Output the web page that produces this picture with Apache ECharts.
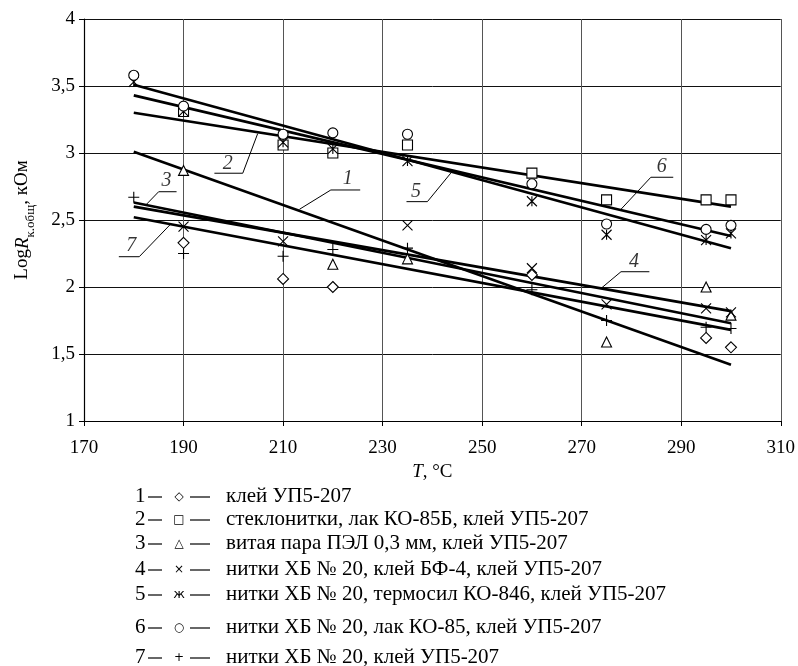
<!DOCTYPE html>
<html><head><meta charset="utf-8">
<script src="https://cdn.jsdelivr.net/npm/echarts@6/dist/echarts.min.js"></script>
<style>html,body{margin:0;padding:0;background:#fff}#c{width:798px;height:666px}</style>
</head><body><div id="c"></div>
<script>
// ---- data ----
const xMin = 170, xMax = 310, xStep = 20;
const yMin = 1, yMax = 4, yStep = 0.5;

// measured points [T, LogR]
const s1 = [[190,2.33],[210,2.06],[220,2.00],[260,2.09],[295,1.62],[300,1.55]];
const s2 = [[190,3.31],[210,3.06],[220,3.00],[235,3.06],[260,2.85],[275,2.65],[295,2.65],[300,2.65]];
const s3 = [[190,2.87],[220,2.17],[235,2.21],[275,1.59],[295,2.00],[300,1.79]];
const s4 = [[190,2.45],[210,2.34],[235,2.46],[260,2.14],[275,1.87],[295,1.84],[300,1.81]];
const s5 = [[180,3.53],[190,3.31],[210,3.08],[220,3.03],[235,2.94],[260,2.64],[275,2.39],[295,2.35],[300,2.40]];
const s6 = [[180,3.58],[190,3.35],[210,3.14],[220,3.15],[235,3.14],[260,2.77],[275,2.47],[295,2.43],[300,2.46]];
const s7 = [[180,2.67],[190,2.25],[210,2.23],[220,2.28],[235,2.29],[260,1.98],[275,1.75],[295,1.70],[300,1.69]];

// fitted trend lines (end points)
const t1 = [[180,3.01],[300,1.42]];
const t2 = [[180,3.30],[300,2.60]];
const t3 = [[180,2.63],[300,1.73]];
const t4 = [[180,2.60],[300,1.82]];
const t5 = [[180,3.51],[300,2.29]];
const t6 = [[180,3.43],[300,2.38]];
const t7 = [[180,2.52],[300,1.68]];

// callout leaders and their numbers
const lead1 = [[213.3,2.58],[219.6,2.724],[225.5,2.724]];
const lead2 = [[204.9,3.145],[201.9,2.849],[196.2,2.849]];
const lead3 = [[182.5,2.615],[185.0,2.711],[188.6,2.711]];
const lead4 = [[273.9,1.99],[277.9,2.114],[283.6,2.114]];
const lead5 = [[243.7,2.85],[239.0,2.637],[234.8,2.637]];
const lead6 = [[277.9,2.58],[283.9,2.819],[288.4,2.819]];
const lead7 = [[187.3,2.465],[181.1,2.226],[177.0,2.226]];
const calloutNums = ['1','2','3','4','5','6','7'];
const calloutPos = [[223.0,2.81],[198.9,2.92],[186.6,2.79],[280.5,2.19],[236.7,2.71],[286.1,2.90],[179.5,2.31]];

const legendLabels = [
  'клей УП5-207',
  'стеклонитки, лак КО-85Б, клей УП5-207',
  'витая пара ПЭЛ 0,3 мм, клей УП5-207',
  'нитки ХБ № 20, клей БФ-4, клей УП5-207',
  'нитки ХБ № 20, термосил КО-846, клей УП5-207',
  'нитки ХБ № 20, лак КО-85, клей УП5-207',
  'нитки ХБ № 20, клей УП5-207'
];

// ---- styling ----
const FONT = '"Liberation Serif","Times New Roman",serif';
const SYM = {
  diamond: 'path://M5,0L10,5L5,10L0,5Z',
  square: 'path://M0,0L10,0L10,10L0,10Z',
  triangle: 'path://M5,0L10,10L0,10Z',
  cross: 'path://M0,0L10,10M10,0L0,10',
  aster: 'path://M0,0L10,10M10,0L0,10M5,0L5,10',
  circle: 'circle',
  plus: 'path://M5,0L5,10M0,5L10,5'
};
const pointSeries = [
  [s1, SYM.diamond, 11], [s2, SYM.square, 10], [s3, SYM.triangle, 10],
  [s4, SYM.cross, 10], [s5, SYM.aster, 10], [s6, SYM.circle, 10], [s7, SYM.plus, 11]
];
const trends = [t1,t2,t3,t4,t5,t6,t7];
const leads = [lead1,lead2,lead3,lead4,lead5,lead6,lead7];

const series = [];
trends.forEach(t => series.push({
  type:'line', data:t, showSymbol:false, symbol:'none', silent:true, z:2,
  lineStyle:{color:'#000', width:2.6}
}));
leads.forEach(l => series.push({
  type:'line', data:l, showSymbol:false, symbol:'none', silent:true, z:2,
  lineStyle:{color:'#000', width:1}
}));
pointSeries.forEach(([d, s, sz]) => series.push({
  type:'scatter', data:d, symbol:s, symbolSize:sz, z:5, silent:true,
  itemStyle:{color:'#fff', borderColor:'#000', borderWidth:1.1, opacity:1}
}));
series.push({
  type:'scatter', symbolSize:0, z:6, silent:true,
  data: calloutNums.map((n,i)=>({name:n, value:calloutPos[i]})),
  label:{show:true, position:'inside', formatter:'{b}', color:'#000',
    fontFamily:FONT, fontStyle:'italic', fontSize:20}
});

// legend as graphic text
const legendY = [497, 520, 544, 570, 595, 628, 658];
const glyphs = ['◇','□','△','×','ж','○','+'];
const graphic = [];
legendLabels.forEach((lab,i) => {
  const y = legendY[i];
  graphic.push({type:'text', left:135, top:y-11, style:{text:String(i+1), font:'21px '+FONT, fill:'#000'}});
  graphic.push({type:'line', shape:{x1:148,y1:y,x2:162,y2:y}, style:{stroke:'#000', lineWidth:1.2}});
  graphic.push({type:'text', x:179, y:y, style:{text:glyphs[i], font:(i===4?'13px ':'12px ')+'"DejaVu Sans"', fill:'#000', align:'center', verticalAlign:'middle'}});
  graphic.push({type:'line', shape:{x1:190,y1:y,x2:210,y2:y}, style:{stroke:'#000', lineWidth:1.2}});
  graphic.push({type:'text', left:226, top:y-11, style:{text:lab, font:'21px '+FONT, fill:'#000'}});
});

const chart = echarts.init(document.getElementById('c'), null, {renderer:'canvas'});
chart.setOption({
  animation:false,
  backgroundColor:'#fff',
  grid:{left:84, right:17, top:19, bottom:245},
  xAxis:{
    type:'value', min:xMin, max:xMax, interval:xStep,
    name:'{i|T}, °C', nameLocation:'middle', nameGap:40,
    nameTextStyle:{fontFamily:FONT, fontSize:19, color:'#000',
      rich:{i:{fontFamily:FONT, fontSize:19, fontStyle:'italic', color:'#000'}}},
    axisLine:{show:true, lineStyle:{color:'#000', width:1.2}},
    axisTick:{show:true, length:5, lineStyle:{color:'#000'}},
    axisLabel:{fontFamily:FONT, fontSize:19, color:'#000', margin:18},
    splitLine:{show:true, lineStyle:{color:'#555', width:1}}
  },
  yAxis:{
    type:'value', min:yMin, max:yMax, interval:yStep,
    name:'{a|Log}{i|R}{s|к.общ}{a|, кОм}', nameLocation:'middle', nameRotate:90, nameGap:52,
    nameTextStyle:{fontFamily:FONT, fontSize:19, color:'#000',
      rich:{
        a:{fontFamily:FONT, fontSize:19, color:'#000', verticalAlign:'bottom', lineHeight:22},
        i:{fontFamily:FONT, fontSize:19, fontStyle:'italic', color:'#000', verticalAlign:'bottom', lineHeight:22},
        s:{fontFamily:FONT, fontSize:13, color:'#000', verticalAlign:'bottom', lineHeight:22, padding:[0,0,-5,0]}
      }},
    axisLine:{show:true, lineStyle:{color:'#000', width:1.2}},
    axisTick:{show:true, length:5, lineStyle:{color:'#000'}},
    axisLabel:{fontFamily:FONT, fontSize:19, color:'#000', margin:9,
      formatter:v=>String(v).replace('.',',')},
    splitLine:{show:true, lineStyle:{color:'#111', width:1}}
  },
  graphic: graphic,
  series: series
});
</script></body></html>
